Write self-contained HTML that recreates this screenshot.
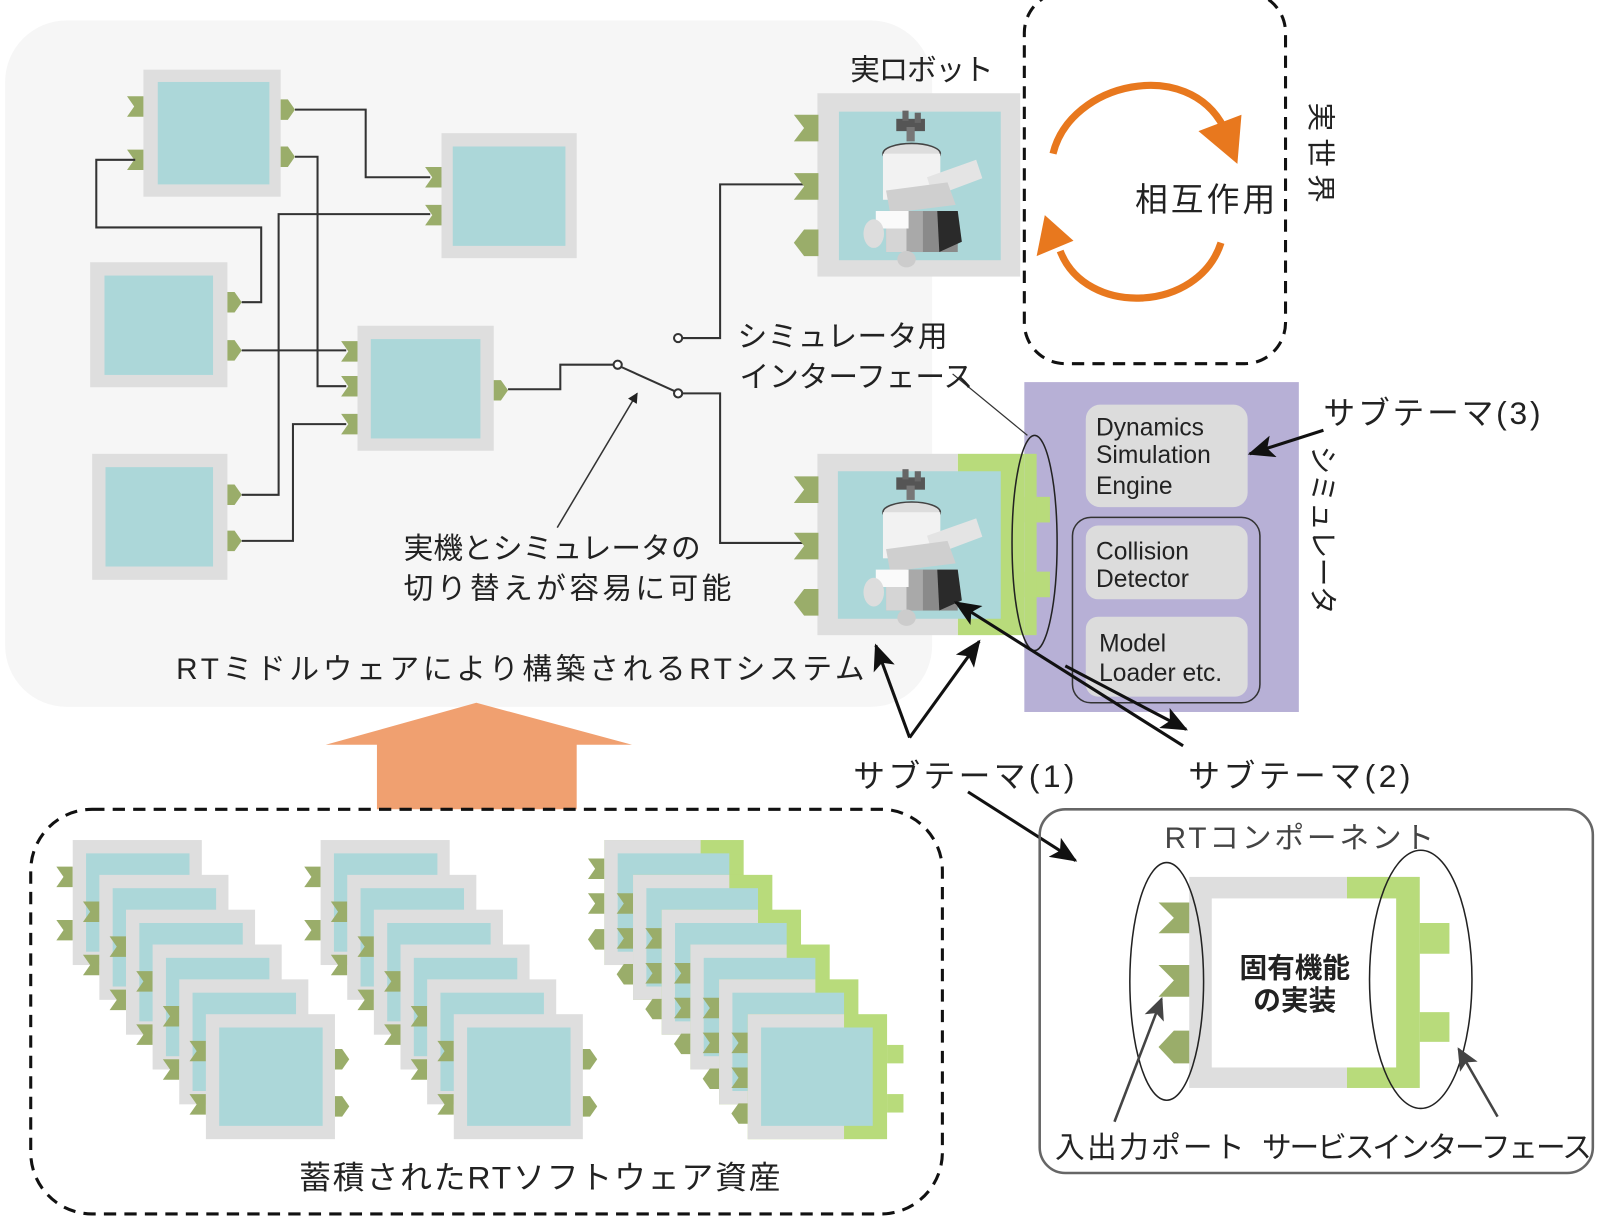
<!DOCTYPE html>
<html><head><meta charset="utf-8">
<style>
html,body{margin:0;padding:0;background:#fff;}
svg{display:block;}
text{font-family:"Liberation Sans","Noto Sans CJK JP",sans-serif;fill:#222;}
</style></head>
<body>
<svg width="1600" height="1216" viewBox="0 0 1562 1187" preserveAspectRatio="none" xmlns="http://www.w3.org/2000/svg">
<defs>
<marker id="ah" markerWidth="10" markerHeight="10" refX="9" refY="5" orient="auto" markerUnits="userSpaceOnUse"><path d="M0,0 L10,5 L0,10 z" fill="#222"/></marker>
<marker id="ahb" markerWidth="26" markerHeight="22" refX="24" refY="11" orient="auto" markerUnits="userSpaceOnUse"><path d="M0,0 L26,11 L0,22 L6,11 z" fill="#111"/></marker>
<marker id="ahg" markerWidth="22" markerHeight="20" refX="20" refY="10" orient="auto" markerUnits="userSpaceOnUse"><path d="M0,0 L22,10 L0,20 L5,10 z" fill="#444"/></marker>
<g id="pin"><path d="M0,0 H24 V26 H0 L10,13 z" fill="#9aad6a"/></g>
<g id="pout"><path d="M0,0 H9 L17,11 L9,22 H0 z" fill="#9aad6a"/></g>
<g id="pbi"><path d="M24,0 V26 H10 L0,13 L10,0 z" fill="#9aad6a"/></g>
<g id="spin"><path d="M0,0 H16 V20 H0 L7,10 z" fill="#9aad6a"/></g>
<g id="spout"><path d="M0,0 H7 L14,10 L7,20 H0 z" fill="#9aad6a"/></g>
<g id="spbi"><path d="M16,0 V20 H7 L0,10 L7,0 z" fill="#9aad6a"/></g>
<g id="robot">
 <rect x="40" y="8" width="28" height="12" fill="#555"/>
 <rect x="46" y="0" width="6" height="10" fill="#666"/>
 <rect x="58" y="2" width="6" height="10" fill="#666"/>
 <rect x="50" y="16" width="8" height="14" fill="#777"/>
 <ellipse cx="55" cy="42" rx="28" ry="10" fill="#ddd" stroke="#444" stroke-width="1.5"/>
 <rect x="27" y="42" width="56" height="45" fill="#f2f2f2"/>
 <path d="M70,65 L118,48 L124,66 L76,84 z" fill="#e4e4e4"/>
 <path d="M30,78 L90,70 L98,92 L34,100 z" fill="#cfcfcf"/>
 <rect x="30" y="98" width="70" height="40" fill="#8a8a8a"/>
 <rect x="30" y="98" width="20" height="40" fill="#d5d5d5"/>
 <rect x="50" y="98" width="16" height="40" fill="#a9a9a9"/>
 <path d="M80,98 H100 L104,128 L82,138 z" fill="#2a2a2a"/>
 <path d="M20,98 H52 V115 H20 z" fill="#fafafa"/>
 <ellipse cx="50" cy="145" rx="9" ry="8" fill="#ccc"/>
 <ellipse cx="18" cy="120" rx="10" ry="14" fill="#ddd"/>
</g>
</defs>

<rect x="5" y="20" width="905" height="670" rx="60" fill="#f6f6f6"/>

<g>
<rect x="140" y="68" width="134" height="124" fill="#dedede"/><rect x="154" y="80" width="109" height="100" fill="#acd7d9"/>
<rect x="431" y="130" width="132" height="122" fill="#dedede"/><rect x="442" y="143" width="110" height="97" fill="#acd7d9"/>
<rect x="88" y="256" width="134" height="122" fill="#dedede"/><rect x="102" y="269" width="106" height="97" fill="#acd7d9"/>
<rect x="349" y="318" width="133" height="122" fill="#dedede"/><rect x="362" y="331" width="107" height="97" fill="#acd7d9"/>
<rect x="90" y="443" width="132" height="123" fill="#dedede"/><rect x="103" y="456" width="105" height="97" fill="#acd7d9"/>
</g>
<g>
<use href="#spin" x="124" y="94"/><use href="#spin" x="124" y="146"/>
<use href="#spout" x="274" y="97"/><use href="#spout" x="274" y="143"/>
<use href="#spin" x="415" y="163"/><use href="#spin" x="415" y="200"/>
<use href="#spout" x="222" y="285"/><use href="#spout" x="222" y="332"/>
<use href="#spin" x="333" y="333"/><use href="#spin" x="333" y="367"/><use href="#spin" x="333" y="404"/>
<use href="#spout" x="482" y="371"/>
<use href="#spout" x="222" y="473"/><use href="#spout" x="222" y="518"/>
</g>
<g fill="none" stroke="#333" stroke-width="2">
<polyline points="288,107 357,107 357,173 420,173"/>
<polyline points="288,153 310,153 310,377 338,377"/>
<polyline points="132,156 94,156 94,222 255,222 255,295 236,295"/>
<polyline points="236,342 338,342"/>
<polyline points="236,483 272,483 272,209 420,209"/>
<polyline points="236,528 286,528 286,414 338,414"/>
<polyline points="496,380 547,380 547,356 599,356"/>
<line x1="606" y1="358" x2="659" y2="382"/>
<polyline points="666,384 703,384 703,530 790,530"/>
<polyline points="666,330 703,330 703,180 790,180"/>
<circle cx="603" cy="356" r="4" fill="#fff"/>
<circle cx="662" cy="384" r="4" fill="#fff"/>
<circle cx="662" cy="330" r="4" fill="#fff"/>
</g>
<line x1="544" y1="515" x2="622" y2="384" stroke="#333" stroke-width="1.5" marker-end="url(#ah)"/>
<text x="394" y="545" font-size="29" textLength="290">実機とシミュレータの</text>
<text x="394" y="584" font-size="29" textLength="320">切り替えが容易に可能</text>
<text x="172" y="663" font-size="29" textLength="672">RTミドルウェアにより構築されるRTシステム</text>

<text x="830" y="78" font-size="29" textLength="140">実ロボット</text>
<rect x="798" y="91" width="198" height="179" fill="#dedede"/>
<rect x="819" y="109" width="158" height="145" fill="#acd7d9"/>
<use href="#robot" x="835" y="108"/>
<use href="#pin" x="775" y="112"/><use href="#pin" x="775" y="169"/><use href="#pbi" x="775" y="224"/>

<rect x="935" y="443" width="65" height="177" fill="#b8db7b"/>
<rect x="1000" y="485" width="25" height="25" fill="#b8db7b"/>
<rect x="1000" y="558" width="25" height="25" fill="#b8db7b"/>
<rect x="798" y="443" width="137" height="177" fill="#dedede"/>
<rect x="818" y="460" width="159" height="144" fill="#acd7d9"/>
<use href="#robot" x="835" y="458"/>
<use href="#pin" x="775" y="465"/><use href="#pin" x="775" y="520"/><use href="#pbi" x="775" y="575"/>

<rect x="1000" y="373" width="268" height="322" fill="#b7b0d6"/>
<rect x="1000" y="485" width="25" height="25" fill="#b8db7b"/>
<rect x="1000" y="558" width="25" height="25" fill="#b8db7b"/>
<rect x="1000" y="443" width="12" height="177" fill="#b8db7b"/>
<ellipse cx="1010" cy="530" rx="22" ry="105" fill="none" stroke="#222" stroke-width="1.5"/>
<line x1="930" y1="365" x2="1003" y2="425" stroke="#333" stroke-width="1.2"/>
<rect x="1060" y="395" width="158" height="100" rx="14" fill="#dcdcdc"/>
<rect x="1047" y="505" width="183" height="181" rx="18" fill="none" stroke="#333" stroke-width="1.5"/>
<rect x="1060" y="513" width="158" height="72" rx="12" fill="#dcdcdc"/>
<rect x="1060" y="602" width="158" height="78" rx="12" fill="#dcdcdc"/>
<g font-size="24" style="fill:#333">
<text x="1070" y="425">Dynamics</text><text x="1070" y="452">Simulation</text><text x="1070" y="482">Engine</text>
<text x="1070" y="546">Collision</text><text x="1070" y="573">Detector</text>
<text x="1073" y="636">Model</text><text x="1073" y="665">Loader etc.</text>
</g>
<text transform="translate(1282,435) rotate(90)" font-size="28" textLength="165">シミュレータ</text>
<text x="1292" y="414" font-size="31" textLength="212">サブテーマ(3)</text>
<line x1="1292" y1="420" x2="1220" y2="443" stroke="#111" stroke-width="3" marker-end="url(#ahb)"/>

<rect x="1000" y="-8" width="255" height="363" rx="40" fill="none" stroke="#111" stroke-width="3" stroke-dasharray="12,8"/>
<g stroke="#e8781e" stroke-width="7" fill="none">
<path d="M1028,150 C1045,80 1160,55 1195,125"/>
<path d="M1192,237 C1170,305 1060,310 1035,245"/>
</g>
<path d="M1170,128 L1212,112 L1208,160 z" fill="#e8781e"/>
<path d="M1012,250 L1020,210 L1048,235 z" fill="#e8781e"/>
<text x="1108" y="206" font-size="32" textLength="137">相互作用</text>
<text transform="translate(1280,100) rotate(90)" font-size="28" textLength="98">実世界</text>

<text x="833" y="768" font-size="31" textLength="216">サブテーマ(1)</text>
<text x="1160" y="768" font-size="31" textLength="217">サブテーマ(2)</text>
<line x1="888" y1="720" x2="855" y2="630" stroke="#111" stroke-width="3" marker-end="url(#ahb)"/>
<line x1="888" y1="720" x2="956" y2="626" stroke="#111" stroke-width="3" marker-end="url(#ahb)"/>
<line x1="1155" y1="728" x2="933" y2="588" stroke="#111" stroke-width="3" marker-end="url(#ahb)"/>
<line x1="1040" y1="650" x2="1158" y2="712" stroke="#111" stroke-width="3" marker-end="url(#ahb)"/>
<line x1="945" y1="773" x2="1050" y2="840" stroke="#111" stroke-width="3" marker-end="url(#ahb)"/>

<path d="M318,727 L465,686 L617,727 L563,727 L563,790 L368,790 L368,727 z" fill="#f0a070"/>

<rect x="30" y="790" width="890" height="395" rx="60" fill="none" stroke="#111" stroke-width="3" stroke-dasharray="12,8"/>
<g id="stack1">
<g><use href="#spin" x="55" y="846"/><use href="#spin" x="55" y="898"/><rect x="71" y="820" width="126" height="122" fill="#dedede"/><rect x="84" y="833" width="101" height="96" fill="#acd7d9"/></g>
<g><use href="#spin" x="81" y="880"/><use href="#spin" x="81" y="932"/><rect x="97" y="854" width="126" height="122" fill="#dedede"/><rect x="110" y="867" width="101" height="96" fill="#acd7d9"/></g>
<g><use href="#spin" x="107" y="914"/><use href="#spin" x="107" y="966"/><rect x="123" y="888" width="126" height="122" fill="#dedede"/><rect x="136" y="901" width="101" height="96" fill="#acd7d9"/></g>
<g><use href="#spin" x="133" y="948"/><use href="#spin" x="133" y="1000"/><rect x="149" y="922" width="126" height="122" fill="#dedede"/><rect x="162" y="935" width="101" height="96" fill="#acd7d9"/></g>
<g><use href="#spin" x="159" y="982"/><use href="#spin" x="159" y="1034"/><rect x="175" y="956" width="126" height="122" fill="#dedede"/><rect x="188" y="969" width="101" height="96" fill="#acd7d9"/></g>
<g><use href="#spin" x="185" y="1016"/><use href="#spin" x="185" y="1068"/><rect x="201" y="990" width="126" height="122" fill="#dedede"/><rect x="214" y="1003" width="101" height="96" fill="#acd7d9"/><use href="#spout" x="327" y="1024"/><use href="#spout" x="327" y="1070"/></g>
</g>
<use href="#stack1" x="242" y="0"/>
<g>
<g><use href="#spin" x="574" y="838"/><use href="#spin" x="574" y="872"/><use href="#spbi" x="574" y="907"/><rect x="590" y="820" width="136" height="122" fill="#b8db7b"/><rect x="590" y="820" width="94" height="122" fill="#dedede"/><rect x="603" y="833" width="109" height="96" fill="#acd7d9"/></g>
<g><use href="#spin" x="602" y="872"/><use href="#spin" x="602" y="906"/><use href="#spbi" x="602" y="941"/><rect x="618" y="854" width="136" height="122" fill="#b8db7b"/><rect x="618" y="854" width="94" height="122" fill="#dedede"/><rect x="631" y="867" width="109" height="96" fill="#acd7d9"/></g>
<g><use href="#spin" x="630" y="906"/><use href="#spin" x="630" y="940"/><use href="#spbi" x="630" y="975"/><rect x="646" y="888" width="136" height="122" fill="#b8db7b"/><rect x="646" y="888" width="94" height="122" fill="#dedede"/><rect x="659" y="901" width="109" height="96" fill="#acd7d9"/></g>
<g><use href="#spin" x="658" y="940"/><use href="#spin" x="658" y="974"/><use href="#spbi" x="658" y="1009"/><rect x="674" y="922" width="136" height="122" fill="#b8db7b"/><rect x="674" y="922" width="94" height="122" fill="#dedede"/><rect x="687" y="935" width="109" height="96" fill="#acd7d9"/></g>
<g><use href="#spin" x="686" y="974"/><use href="#spin" x="686" y="1008"/><use href="#spbi" x="686" y="1043"/><rect x="702" y="956" width="136" height="122" fill="#b8db7b"/><rect x="702" y="956" width="94" height="122" fill="#dedede"/><rect x="715" y="969" width="109" height="96" fill="#acd7d9"/></g>
<g><use href="#spin" x="714" y="1008"/><use href="#spin" x="714" y="1042"/><use href="#spbi" x="714" y="1077"/><rect x="730" y="990" width="136" height="122" fill="#b8db7b"/><rect x="730" y="990" width="94" height="122" fill="#dedede"/><rect x="743" y="1003" width="109" height="96" fill="#acd7d9"/><rect x="866" y="1020" width="16" height="18" fill="#b8db7b"/><rect x="866" y="1068" width="16" height="18" fill="#b8db7b"/></g>
</g>
<text x="292" y="1160" font-size="31" textLength="470">蓄積されたRTソフトウェア資産</text>

<rect x="1015" y="790" width="540" height="355" rx="25" fill="none" stroke="#666" stroke-width="2.5"/>
<text x="1137" y="828" font-size="29" textLength="263" style="fill:#444">RTコンポーネント</text>
<rect x="1161" y="856" width="225" height="206" fill="#dedede"/>
<rect x="1315" y="856" width="71" height="206" fill="#b8db7b"/>
<rect x="1386" y="901" width="29" height="30" fill="#b8db7b"/>
<rect x="1386" y="988" width="29" height="29" fill="#b8db7b"/>
<rect x="1183" y="877" width="180" height="165" fill="#fff"/>
<path d="M1131,881 H1161 V911 H1131 L1146,896 z" fill="#9aad6a"/>
<path d="M1131,942 H1161 V973 H1131 L1146,957 z" fill="#9aad6a"/>
<path d="M1161,1006 V1038 H1146 L1131,1022 L1146,1006 z" fill="#9aad6a"/>
<ellipse cx="1139" cy="958" rx="36" ry="116" fill="none" stroke="#222" stroke-width="1.5"/>
<ellipse cx="1387" cy="956" rx="50" ry="126" fill="none" stroke="#222" stroke-width="1.5"/>
<text x="1264" y="954" font-size="27" font-weight="bold" text-anchor="middle">固有機能</text>
<text x="1264" y="986" font-size="27" font-weight="bold" text-anchor="middle">の実装</text>
<line x1="1088" y1="1095" x2="1134" y2="975" stroke="#444" stroke-width="2.5" marker-end="url(#ahg)"/>
<line x1="1462" y1="1090" x2="1424" y2="1024" stroke="#444" stroke-width="2.5" marker-end="url(#ahg)"/>
<text x="1030" y="1130" font-size="29" textLength="185">入出力ポート</text>
<text x="1232" y="1130" font-size="29" textLength="322">サービスインターフェース</text>

<text x="720" y="338" font-size="29" textLength="205">シミュレータ用</text>
<text x="722" y="378" font-size="29" textLength="228">インターフェース</text>
</svg>
</body></html>
